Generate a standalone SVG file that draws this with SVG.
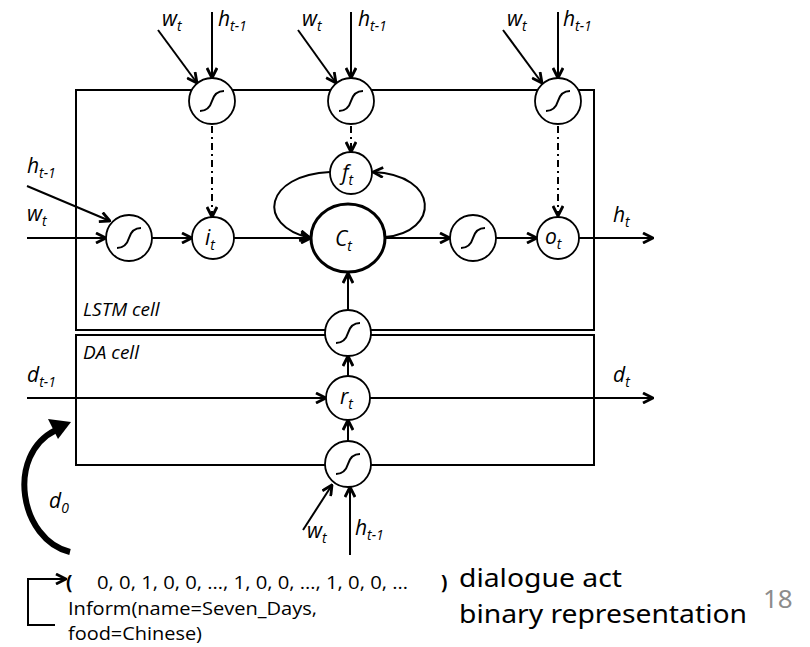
<svg xmlns="http://www.w3.org/2000/svg" xmlns:xlink="http://www.w3.org/1999/xlink" width="810" height="647" viewBox="0 0 810 647">
<style>
.ln{stroke:#000;stroke-width:2;fill:none}
.dd{stroke:#000;stroke-width:2;fill:none;stroke-dasharray:7 4 2 4}
.nd{fill:#fff;stroke:#000;stroke-width:1.8}
.ct{fill:#fff;stroke:#000;stroke-width:3}
.box{fill:none;stroke:#000;stroke-width:2}
.sg{fill:none;stroke:#000;stroke-width:2}
.lb{font-family:"Open Sans","Noto Sans",sans-serif;font-style:italic;font-size:21px;fill:#000}
.nl{font-family:"Open Sans","Noto Sans",sans-serif;font-style:italic;font-size:21px;fill:#000}
.sb{font-size:14px}
.cl{font-family:"Open Sans","Noto Sans",sans-serif;font-style:italic;font-size:19px;fill:#000}
.bt{font-family:"Open Sans","Noto Sans",sans-serif;font-size:19px;fill:#000}
.rt{font-family:"Noto Sans","Open Sans",sans-serif;font-size:25px;fill:#000}
</style>
<defs>
<marker id="ah" viewBox="0 0 12 12" refX="11" refY="6" markerWidth="12" markerHeight="12" markerUnits="userSpaceOnUse" orient="auto">
<path d="M1,1 L11,6 L1,11" fill="none" stroke="#000" stroke-width="2.8"/>
</marker>
<path id="sig" d="M-12,10 Q-3,10 0,0 T12,-10"/>
</defs>

<g id="lstm-cell">
<rect class="box" x="76" y="90" width="518" height="240"/>
<text class="cl" x="83" y="316">LSTM cell</text>
</g>
<g id="da-cell">
<rect class="box" x="76" y="335" width="518" height="130"/>
<text class="cl" x="83" y="359">DA cell</text>
</g>

<g id="connectors">
<line class="ln" x1="158" y1="30" x2="197" y2="83" marker-end="url(#ah)"/>
<line class="ln" x1="212" y1="12" x2="212" y2="78" marker-end="url(#ah)"/>
<line class="ln" x1="298" y1="30" x2="336" y2="83" marker-end="url(#ah)"/>
<line class="ln" x1="351" y1="12" x2="351" y2="78" marker-end="url(#ah)"/>
<line class="ln" x1="503" y1="30" x2="542" y2="83" marker-end="url(#ah)"/>
<line class="ln" x1="558" y1="12" x2="558" y2="78" marker-end="url(#ah)"/>
<line class="ln" x1="27" y1="186" x2="110" y2="221" marker-end="url(#ah)"/>
<line class="ln" x1="27" y1="238" x2="106" y2="238" marker-end="url(#ah)"/>
<line class="ln" x1="152" y1="238" x2="192" y2="238" marker-end="url(#ah)"/>
<line class="ln" x1="234" y1="238" x2="311" y2="238" marker-end="url(#ah)"/>
<line class="ln" x1="385" y1="238" x2="450" y2="238" marker-end="url(#ah)"/>
<line class="ln" x1="496" y1="238" x2="537" y2="238" marker-end="url(#ah)"/>
<line class="ln" x1="579" y1="238" x2="653" y2="238" marker-end="url(#ah)"/>
<line class="dd" x1="212" y1="126" x2="212" y2="217" marker-end="url(#ah)"/>
<line class="dd" x1="351" y1="126" x2="351" y2="152" marker-end="url(#ah)"/>
<line class="dd" x1="558" y1="126" x2="558" y2="216" marker-end="url(#ah)"/>
<path class="ln" d="M330,172 C265,175 255,225 310,238" marker-end="url(#ah)"/>
<path class="ln" d="M385,237 C440,232 440,175 373,172" marker-end="url(#ah)"/>
<line class="ln" x1="348" y1="310" x2="348" y2="273" marker-end="url(#ah)"/>
<line class="ln" x1="348" y1="376" x2="348" y2="356" marker-end="url(#ah)"/>
<line class="ln" x1="348" y1="441" x2="348" y2="420" marker-end="url(#ah)"/>
<line class="ln" x1="27" y1="398" x2="326" y2="398" marker-end="url(#ah)"/>
<line class="ln" x1="370" y1="398" x2="653" y2="398" marker-end="url(#ah)"/>
<line class="ln" x1="303" y1="530" x2="332" y2="485" marker-end="url(#ah)"/>
<line class="ln" x1="350" y1="555" x2="350" y2="487" marker-end="url(#ah)"/>
<path d="M70,552 C20,540 5,455 56,430" fill="none" stroke="#000" stroke-width="6"/>
<path d="M71,422 L48,419 L58,439 Z" fill="#000"/>
<polyline class="ln" points="55,625 28,625 28,579 66,579" marker-end="url(#ah)"/>
</g>

<g id="sig-in-gate">
<circle class="nd" cx="212" cy="101" r="23"/>
<use href="#sig" x="212" y="101" class="sg"/>
</g>
<g id="sig-forget-gate">
<circle class="nd" cx="351" cy="101" r="23"/>
<use href="#sig" x="351" y="101" class="sg"/>
</g>
<g id="sig-out-gate">
<circle class="nd" cx="558" cy="101" r="23"/>
<use href="#sig" x="558" y="101" class="sg"/>
</g>
<g id="sig-input">
<circle class="nd" cx="129" cy="238" r="23"/>
<use href="#sig" x="129" y="238" class="sg"/>
</g>
<g id="i-t">
<circle class="nd" cx="213" cy="238" r="21"/>
<text class="nl" x="205" y="245">i<tspan class="sb" dy="5">t</tspan></text>
</g>
<g id="f-t">
<circle class="nd" cx="351" cy="173" r="21"/>
<text class="nl" x="342" y="180">f<tspan class="sb" dy="5">t</tspan></text>
</g>
<g id="c-t">
<ellipse class="ct" cx="348" cy="238" rx="37" ry="34"/>
<text class="nl" x="335" y="246">C<tspan class="sb" dy="5">t</tspan></text>
</g>
<g id="sig-cell">
<circle class="nd" cx="473" cy="238" r="23"/>
<use href="#sig" x="473" y="238" class="sg"/>
</g>
<g id="o-t">
<circle class="nd" cx="558" cy="238" r="21"/>
<text class="nl" x="545" y="244">o<tspan class="sb" dy="5">t</tspan></text>
</g>
<g id="sig-da-out">
<circle class="nd" cx="348" cy="333" r="23"/>
<use href="#sig" x="348" y="333" class="sg"/>
</g>
<g id="r-t">
<circle class="nd" cx="348" cy="398" r="22"/>
<text class="nl" x="340" y="404">r<tspan class="sb" dy="5">t</tspan></text>
</g>
<g id="sig-da-gate">
<circle class="nd" cx="348" cy="464" r="23"/>
<use href="#sig" x="348" y="464" class="sg"/>
</g>

<g id="labels">
<text class="lb" x="162" y="26">w<tspan class="sb" dy="5">t</tspan></text>
<text class="lb" x="218" y="26">h<tspan class="sb" dy="5">t-1</tspan></text>
<text class="lb" x="302" y="26">w<tspan class="sb" dy="5">t</tspan></text>
<text class="lb" x="358" y="26">h<tspan class="sb" dy="5">t-1</tspan></text>
<text class="lb" x="507" y="26">w<tspan class="sb" dy="5">t</tspan></text>
<text class="lb" x="563" y="26">h<tspan class="sb" dy="5">t-1</tspan></text>
<text class="lb" x="27" y="173">h<tspan class="sb" dy="5">t-1</tspan></text>
<text class="lb" x="27" y="221">w<tspan class="sb" dy="5">t</tspan></text>
<text class="lb" x="613" y="222">h<tspan class="sb" dy="5">t</tspan></text>
<text class="lb" x="27" y="382">d<tspan class="sb" dy="5">t-1</tspan></text>
<text class="lb" x="613" y="382">d<tspan class="sb" dy="5">t</tspan></text>
<text class="lb" x="49" y="508">d<tspan class="sb" dy="5">0</tspan></text>
<text class="lb" x="307" y="538">w<tspan class="sb" dy="5">t</tspan></text>
<text class="lb" x="355" y="535">h<tspan class="sb" dy="5">t-1</tspan></text>
</g>

<g id="bottom-text">
<text class="bt" x="66" y="589" font-weight="bold">(</text>
<text class="bt" x="97" y="589" textLength="311" lengthAdjust="spacingAndGlyphs">0, 0, 1, 0, 0, …, 1, 0, 0, …, 1, 0, 0, …</text>
<text class="bt" x="441" y="589" font-weight="bold">)</text>
<text class="bt" x="68" y="615" textLength="249" lengthAdjust="spacingAndGlyphs">Inform(name=Seven_Days,</text>
<text class="bt" x="68" y="640" textLength="134" lengthAdjust="spacingAndGlyphs">food=Chinese)</text>
<text class="rt" x="459" y="587" textLength="163" lengthAdjust="spacingAndGlyphs">dialogue act</text>
<text class="rt" x="459" y="623" textLength="288" lengthAdjust="spacingAndGlyphs">binary representation</text>
<text x="763" y="608" font-family="Noto Sans, Open Sans, sans-serif" font-size="26" fill="#8c8c8c">18</text>
</g>
</svg>
